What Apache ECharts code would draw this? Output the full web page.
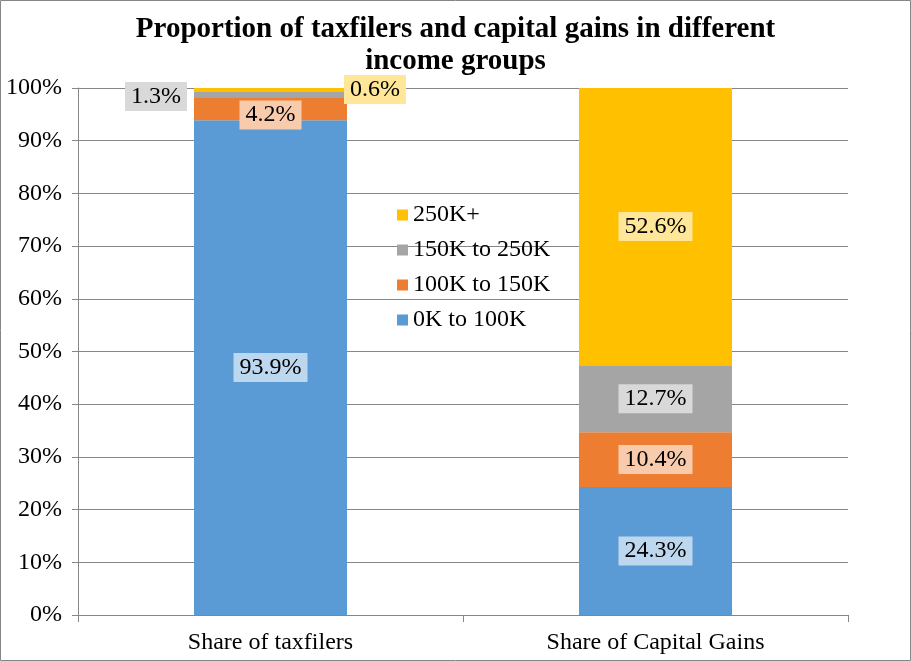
<!DOCTYPE html>
<html>
<head>
<meta charset="utf-8">
<script src="https://cdn.jsdelivr.net/npm/echarts@6/dist/echarts.min.js"></script>
<style>
  html, body { margin: 0; padding: 0; background: #fff; }
  #chart { width: 911px; height: 661px; }
</style>
</head>
<body>
<div id="chart"></div>
<script>
var categories = ['Share of taxfilers', 'Share of Capital Gains'];
var groups = ['0K to 100K', '100K to 150K', '150K to 250K', '250K+'];
var low = [93.9, 24.3];
var midLow = [4.2, 10.4];
var midHigh = [1.3, 12.7];
var high = [0.6, 52.6];
var yTicks = [0, 10, 20, 30, 40, 50, 60, 70, 80, 90, 100];

var colors = ['#5b9bd5', '#ed7d31', '#a5a5a5', '#ffc000'];
var labelBg = ['#bdd7ee', '#f8cbad', '#d9d9d9', '#ffe699'];
var font = '"Liberation Serif", "Times New Roman", serif';

function makeLabel(i) {
    return {
        show: true,
        position: 'inside',
        formatter: function (p) { return p.value.toFixed(1) + '%'; },
        fontFamily: font,
        fontSize: 24,
        color: '#000',
        backgroundColor: labelBg[i],
        padding: [3, 6, 2, 6]
    };
}

function makeSeries(name, values, i, special) {
    var data = values.map(function (v, k) {
        var d = { value: v };
        if (special && special[k]) d.label = special[k];
        return d;
    });
    return {
        name: name,
        type: 'bar',
        stack: 'total',
        barWidth: 153,
        itemStyle: { color: colors[i] },
        label: makeLabel(i),
        data: data
    };
}

var myChart = echarts.init(document.getElementById('chart'));
var option = {
    animation: false,
    title: {
        text: 'Proportion of taxfilers and capital gains in different\nincome groups',
        left: 'center',
        top: 9,
        textStyle: {
            fontFamily: font,
            fontSize: 29,
            fontWeight: 'bold',
            color: '#000',
            lineHeight: 32
        }
    },
    legend: {
        orient: 'vertical',
        left: 392,
        top: 198,
        itemWidth: 11,
        itemHeight: 11,
        itemGap: 11,
        icon: 'rect',
        data: groups.slice().reverse(),
        textStyle: { fontFamily: font, fontSize: 24, color: '#000' }
    },
    graphic: [{
        type: 'rect',
        shape: { x: 0.5, y: 0.5, width: 910, height: 660 },
        style: { fill: 'none', stroke: '#868686', lineWidth: 1 },
        silent: true
    }],
    grid: { left: 78, right: 63, top: 88, bottom: 46 },
    xAxis: {
        type: 'category',
        data: categories,
        axisLine: { lineStyle: { color: '#868686' } },
        axisTick: { show: true, length: 7, lineStyle: { color: '#868686' } },
        axisLabel: { fontFamily: font, fontSize: 24, color: '#000', margin: 16 }
    },
    yAxis: {
        type: 'value',
        min: yTicks[0],
        max: yTicks[yTicks.length - 1],
        interval: yTicks[1] - yTicks[0],
        axisLine: { show: true, lineStyle: { color: '#868686' } },
        axisTick: { show: true, length: 6, lineStyle: { color: '#868686' } },
        splitLine: { lineStyle: { color: '#868686' } },
        axisLabel: {
            fontFamily: font, fontSize: 24, color: '#000', margin: 16,
            formatter: '{value}%'
        }
    },
    series: [
        makeSeries(groups[0], low, 0),
        makeSeries(groups[1], midLow, 1, [{ offset: [0, 6] }, null]),
        makeSeries(groups[2], midHigh, 2, [{ position: 'left', distance: 7, offset: [0, 2] }, null]),
        makeSeries(groups[3], high, 3, [{ position: 'right', distance: -3 }, null])
    ]
};
myChart.setOption(option);
</script>
</body>
</html>
